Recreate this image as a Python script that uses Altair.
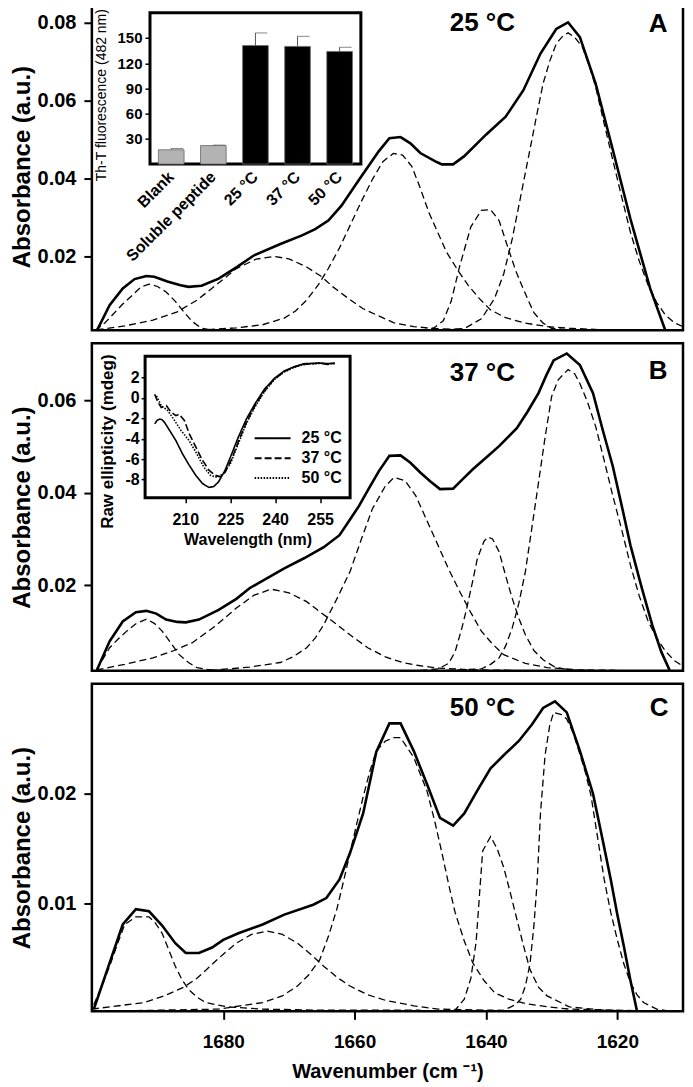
import altair as alt
import pandas as pd

FONT = "Liberation Sans"

# ---------------- shared axis data ----------------
WN_DOMAIN = [1610, 1700]
WN_TICKS = [1620, 1640, 1660, 1680]

A_Y_DOMAIN = [0.00107, 0.085]
A_Y_TICKS = [0.02, 0.04, 0.06, 0.08]
B_Y_DOMAIN = [0.0014, 0.0724]
B_Y_TICKS = [0.02, 0.04, 0.06]
C_Y_DOMAIN = [0.0002, 0.030]
C_Y_TICKS = [0.01, 0.02]

PANEL_TEMPS = ["25 °C", "37 °C", "50 °C"]
PANEL_LETTERS = ["A", "B", "C"]

# ---------------- panel A (25 °C) ----------------
A_TOTAL_WN = [1699.2, 1697.3, 1695.3, 1693.5, 1691.7, 1690.5, 1688.5, 1686.5, 1685.3, 1683.3, 1680.7, 1678, 1675.3,
              1671.3, 1668, 1666, 1664, 1662, 1659.3, 1656.3, 1654.7, 1653, 1651.5, 1650, 1647.5, 1646.7, 1645,
              1643.3, 1640, 1637, 1634.3, 1631.7, 1629.3, 1627.5, 1625.7, 1623.3, 1620.7, 1618, 1615, 1612.7]
A_TOTAL_ABS = [0.0011, 0.0075, 0.0118, 0.0142, 0.015, 0.0148, 0.0136, 0.0126, 0.0122, 0.0125, 0.0143, 0.0172, 0.0203,
               0.0232, 0.0254, 0.027, 0.0292, 0.033, 0.0397, 0.047, 0.0503, 0.0506, 0.049, 0.0465, 0.0442, 0.0436, 0.0436,
               0.0457, 0.0512, 0.0558, 0.0626, 0.072, 0.0783, 0.080, 0.0762, 0.0643, 0.0474, 0.0296, 0.0118, 0.0011]
A_P1_WN = [1699.5, 1698, 1696.7, 1695.3, 1694, 1692.5, 1691.3, 1690, 1688.7, 1687.3, 1686, 1684.7, 1683.3, 1681.5, 1678]
A_P1_ABS = [0.001, 0.003, 0.0053, 0.0078, 0.0098, 0.0122, 0.0129, 0.0123, 0.0109, 0.0085, 0.0058, 0.0033, 0.0016, 0.0011, 0.001]
A_P2_WN = [1699.3, 1695, 1690.7, 1687, 1684, 1681, 1678, 1675, 1672.3, 1670, 1667.3, 1665, 1663.3, 1661, 1658.7, 1656,
           1654, 1651, 1647.3, 1642, 1636]
A_P2_ABS = [0.0012, 0.0022, 0.0037, 0.0058, 0.0088, 0.0128, 0.0169, 0.0193, 0.020, 0.0194, 0.0173, 0.0148, 0.0122, 0.0093,
            0.0066, 0.0045, 0.003, 0.002, 0.0015, 0.0012, 0.0011]
A_P3_WN = [1684, 1678, 1674, 1670.7, 1669, 1667.3, 1665.5, 1664, 1662.3, 1660.7, 1659, 1657.3, 1655.7, 1654.1, 1652.7,
           1651.3, 1650, 1648.7, 1647.3, 1646, 1644.3, 1642.7, 1641, 1639.3, 1637, 1634, 1630.5, 1627.3, 1622, 1618]
A_P3_ABS = [0.0011, 0.0017, 0.0025, 0.0042, 0.006, 0.0088, 0.0128, 0.0169, 0.0222, 0.0279, 0.034, 0.0397, 0.0443, 0.0464,
            0.046, 0.0431, 0.0375, 0.0313, 0.026, 0.0211, 0.0165, 0.0126, 0.0092, 0.0063, 0.0043, 0.0029, 0.002, 0.0016,
            0.0012, 0.0011]
A_P4_WN = [1650, 1648, 1646.5, 1645.3, 1644, 1642.3, 1640.7, 1639.3, 1638, 1636.7, 1635.5, 1634.7, 1633.5, 1632.7, 1631.3,
           1630, 1627]
A_P4_ABS = [0.0011, 0.0016, 0.0035, 0.0085, 0.0175, 0.0276, 0.0318, 0.032, 0.0292, 0.0225, 0.0165, 0.0132, 0.0085, 0.0056,
            0.0029, 0.0016, 0.0011]
A_P5_WN = [1648, 1643.3, 1640.7, 1638.7, 1637.3, 1636, 1634.7, 1633.3, 1632.3, 1631.3, 1630.3, 1629.3, 1628.3, 1627.5, 1626.5,
           1625.3, 1624.3, 1623.3, 1622, 1620.7, 1619.3, 1618, 1616.7, 1615.3, 1614, 1612.7, 1611.3, 1610]
A_P5_ABS = [0.0011, 0.0015, 0.004, 0.0092, 0.0155, 0.0245, 0.0355, 0.0474, 0.056, 0.0643, 0.070, 0.0745, 0.0765, 0.0773,
            0.0762, 0.0736, 0.069, 0.0635, 0.054, 0.0448, 0.035, 0.0262, 0.019, 0.0126, 0.0082, 0.005, 0.003, 0.002]

# ---------------- panel B (37 °C) ----------------
B_TOTAL_WN = [1699.2, 1697.3, 1695.3, 1693.3, 1691.7, 1690.2, 1688.7, 1687, 1685.7, 1683.7, 1680.7, 1678, 1676, 1673.3,
              1670.7, 1667.7, 1664.7, 1662.3, 1660.8, 1659.3, 1657.8, 1656.3, 1654.7, 1653, 1651.5, 1650, 1648.5, 1647,
              1645, 1643.5, 1642, 1640, 1638, 1635.3, 1633.7, 1632, 1630.8, 1629.7, 1627.7, 1625.7, 1623.7, 1622.2,
              1620.7, 1619.3, 1618, 1616.3, 1614.7, 1613.3, 1612]
B_TOTAL_ABS = [0.0017, 0.0078, 0.0121, 0.0141, 0.0144, 0.0138, 0.0125, 0.012, 0.0119, 0.0125, 0.0146, 0.017, 0.0193, 0.0215,
               0.0236, 0.0258, 0.0282, 0.0308, 0.034, 0.0372, 0.041, 0.0447, 0.048, 0.0481, 0.0465, 0.0444, 0.0425, 0.0408,
               0.0409, 0.043, 0.0451, 0.0476, 0.0501, 0.054, 0.0575, 0.0616, 0.0655, 0.0687, 0.0702, 0.0677, 0.0616, 0.0535,
               0.0458, 0.037, 0.0286, 0.0195, 0.0114, 0.0055, 0.0014]
B_P1_WN = [1699.3, 1698.3, 1697.3, 1696, 1694.7, 1693.3, 1691.7, 1690.5, 1689.3, 1688, 1686.7, 1685.3, 1684, 1682, 1678]
B_P1_ABS = [0.0016, 0.004, 0.0064, 0.0083, 0.010, 0.0116, 0.0126, 0.0117, 0.010, 0.0075, 0.0049, 0.0032, 0.0021, 0.0016, 0.0015]
B_P2_WN = [1699.3, 1695, 1690.7, 1687.5, 1684.7, 1681.3, 1678, 1675.3, 1672.7, 1670, 1667.3, 1665.3, 1663.3, 1660.7, 1658,
           1655.3, 1652.7, 1650, 1647.3, 1642, 1636]
B_P2_ABS = [0.0016, 0.0028, 0.0042, 0.0058, 0.0075, 0.011, 0.015, 0.0178, 0.0191, 0.0183, 0.0164, 0.0142, 0.0121, 0.0092,
            0.0064, 0.0044, 0.0032, 0.0025, 0.002, 0.0016, 0.0015]
B_P3_WN = [1682, 1676, 1671.3, 1669.3, 1667.3, 1666, 1664.7, 1662.7, 1660.7, 1659, 1657.3, 1655.3, 1654, 1652.3, 1650.7,
           1649, 1647.3, 1645.7, 1644, 1642.3, 1640.7, 1639, 1637.3, 1634, 1630.7, 1626, 1620]
B_P3_ABS = [0.0015, 0.0022, 0.0032, 0.0045, 0.0064, 0.0085, 0.0114, 0.017, 0.0229, 0.0298, 0.0365, 0.0415, 0.0433, 0.0426,
            0.0394, 0.034, 0.0286, 0.0235, 0.0186, 0.014, 0.010, 0.0072, 0.0049, 0.003, 0.0021, 0.0016, 0.0015]
B_P4_WN = [1650, 1647.3, 1645.7, 1644.7, 1643.7, 1643, 1642, 1641.3, 1640.3, 1639.7, 1639, 1638, 1637, 1636, 1635, 1634,
           1632.7, 1631.3, 1629.5, 1627.3, 1624]
B_P4_ABS = [0.0015, 0.0018, 0.003, 0.0055, 0.0105, 0.0145, 0.021, 0.0258, 0.0295, 0.0304, 0.030, 0.0272, 0.022, 0.0171,
            0.0128, 0.0092, 0.0058, 0.0038, 0.0022, 0.0016, 0.0015]
B_P5_WN = [1646, 1640.7, 1639.3, 1638, 1637, 1636, 1635, 1634, 1633, 1632, 1631, 1630, 1629, 1627.5, 1626.5, 1625.7, 1624.5,
           1623.3, 1622, 1620.7, 1619.3, 1618, 1616.7, 1615.3, 1614, 1612.7, 1611.3, 1610]
B_P5_ABS = [0.0015, 0.0018, 0.0028, 0.0042, 0.0068, 0.0107, 0.016, 0.0229, 0.0325, 0.0422, 0.052, 0.0609, 0.0645, 0.0667,
            0.0658, 0.0637, 0.0595, 0.0544, 0.047, 0.0394, 0.0318, 0.0243, 0.0178, 0.0121, 0.0085, 0.0057, 0.0036, 0.0024]

# ---------------- panel C (50 °C) ----------------
C_TOTAL_WN = [1699.7, 1697.3, 1695.3, 1693.3, 1691.3, 1689.3, 1687.3, 1685.7, 1683.7, 1681.7, 1680, 1677.7, 1674, 1670.7,
              1666.3, 1664.3, 1662.3, 1660.7, 1658.7, 1656.7, 1654.7, 1653, 1651, 1649, 1647, 1645, 1643.3, 1641.3,
              1639.3, 1637.3, 1635, 1633, 1631.3, 1629.5, 1627.7, 1625.7, 1623.7, 1622.3, 1621, 1620, 1619, 1618, 1617]
C_TOTAL_ABS = [0.0004, 0.0046, 0.0081, 0.0095, 0.0093, 0.008, 0.0064, 0.0055, 0.0055, 0.006, 0.0067, 0.0073, 0.0081, 0.009,
               0.0099, 0.0105, 0.0122, 0.0146, 0.0182, 0.0238, 0.0264, 0.0264, 0.0239, 0.0209, 0.0178, 0.0171, 0.0182,
               0.0203, 0.0223, 0.0235, 0.0248, 0.0263, 0.0278, 0.0284, 0.0274, 0.0239, 0.020, 0.016, 0.0122, 0.009,
               0.0061, 0.003, 0.0002]
C_P1_WN = [1699.7, 1698.5, 1697.3, 1696, 1695, 1693.3, 1691.3, 1690.3, 1689.3, 1688.3, 1687.3, 1686.3, 1685.3, 1684,
           1682.7, 1679.3, 1674, 1665, 1650]
C_P1_ABS = [0.0008, 0.0025, 0.0043, 0.0065, 0.0081, 0.0088, 0.0088, 0.0082, 0.0073, 0.0058, 0.0043, 0.0031, 0.0022, 0.0015,
            0.001, 0.0006, 0.0004, 0.0003, 0.0003]
C_P2_WN = [1700, 1692, 1689, 1686, 1684, 1682, 1680, 1678, 1675.7, 1673.3, 1671, 1668.7, 1666.7, 1664.7, 1662.7, 1660.7,
           1658, 1655.3, 1651, 1647.3, 1640, 1630]
C_P2_ABS = [0.0004, 0.001, 0.0016, 0.0024, 0.0032, 0.0043, 0.0054, 0.0064, 0.0072, 0.0075, 0.0072, 0.0064, 0.0054, 0.0043,
            0.0033, 0.0025, 0.0017, 0.0012, 0.0007, 0.0004, 0.0003, 0.0002]
C_P3_WN = [1700, 1690, 1680.7, 1674, 1671, 1668.7, 1667, 1665.3, 1664, 1662.7, 1661.7, 1660.7, 1659.7, 1658.7, 1657.7,
           1656.7, 1655.3, 1654, 1653, 1651, 1649, 1647.8, 1646.7, 1645.7, 1644.7, 1643.3, 1642, 1640.3, 1638.7, 1636.5,
           1634, 1630.5, 1627.3, 1620, 1612]
C_P3_ABS = [0.0002, 0.0003, 0.0004, 0.001, 0.0016, 0.0025, 0.0035, 0.0049, 0.007, 0.0095, 0.012, 0.0146, 0.0172, 0.0197,
            0.022, 0.0239, 0.0248, 0.0251, 0.0251, 0.0233, 0.0203, 0.0175, 0.0146, 0.0118, 0.0092, 0.0066, 0.0046, 0.003,
            0.0019, 0.0013, 0.0009, 0.0006, 0.0004, 0.0003, 0.0002]
C_P4_WN = [1655, 1646, 1644.7, 1643.3, 1642.3, 1641.5, 1640.9, 1640.5, 1639.3, 1638.3, 1637.3, 1636.3, 1635.3, 1634.3,
           1633.3, 1632, 1630.7, 1627.3, 1622, 1615]
C_P4_ABS = [0.0002, 0.0002, 0.0003, 0.0013, 0.0032, 0.0065, 0.0115, 0.0148, 0.0161, 0.015, 0.0133, 0.011, 0.0086, 0.0062,
            0.004, 0.0024, 0.0016, 0.0006, 0.0003, 0.0002]
C_P5_WN = [1645, 1637.3, 1635.5, 1634.7, 1634, 1633.3, 1632.7, 1632.2, 1631.7, 1631, 1630.3, 1629.7, 1628.5, 1627.7, 1626.7,
           1625.7, 1624.8, 1624, 1623, 1622, 1621, 1620, 1619, 1618, 1617, 1616, 1614, 1612, 1610]
C_P5_ABS = [0.0002, 0.0003, 0.0008, 0.0013, 0.0025, 0.0045, 0.008, 0.012, 0.0182, 0.0235, 0.0262, 0.0274, 0.0272, 0.0268,
            0.0255, 0.0236, 0.0218, 0.0198, 0.016, 0.0122, 0.0092, 0.0067, 0.0045, 0.0028, 0.0017, 0.001, 0.0004, 0.0002,
            0.0002]

# ---------------- inset A: Th-T fluorescence ----------------
BAR_LABELS = ["Blank", "Soluble peptide", "25 °C", "37 °C", "50 °C"]
BAR_VALUES = [17, 22, 141, 140, 134]
BAR_ERRORS = [1.5, 0.6, 15, 12, 5]
BAR_KIND = ["control", "control", "fibril", "fibril", "fibril"]
THT_DOMAIN = [0, 180]
THT_TICKS = [30, 60, 90, 120, 150]

# ---------------- inset B: CD spectra ----------------
CD_TEMPS = ["25 °C", "37 °C", "50 °C"]
CD_WL_DOMAIN = [196.6, 265]
CD_WL_TICKS = [210, 225, 240, 255]
CD_Y_DOMAIN = [-9.8, 4.1]
CD_Y_TICKS = [2, 0, -2, -4, -6, -8]
CD25_WL = [199.8, 200.6, 201.5, 202.3, 203.1, 204.8, 206.9, 209.1, 211.3, 213.5, 215.7, 217.9, 219.5, 221.1, 223.3, 225.5,
           227.7, 230.4, 233.2, 236.4, 239.7, 243.0, 246.3, 249.5, 252, 255, 257.5, 259.9]
CD25_MDEG = [-2.55, -2.2, -2.07, -2.15, -2.4, -3.2, -4.2, -5.5, -6.6, -7.6, -8.4, -8.8, -8.7, -8.25, -7.1, -5.5, -3.85,
             -2.07, -0.6, 0.86, 1.93, 2.65, 3.07, 3.37, 3.4, 3.43, 3.38, 3.42]
CD37_WL = [199.8, 200.9, 202.0, 203.7, 205.3, 206.9, 208.0, 209.7, 211.3, 213.5, 215.7, 217.9, 220.0, 221.7, 223.3, 225.5,
           227.7, 230.4, 233.2, 236.4, 239.7, 243.0, 246.3, 249.5, 252, 255, 257.5, 259.9]
CD37_MDEG = [0.37, -0.44, -0.93, -0.76, -1.4, -1.74, -1.6, -2.2, -3.5, -4.8, -6.1, -7.1, -7.6, -7.75, -7.3, -6.0, -4.3,
             -2.4, -0.8, 0.7, 1.85, 2.6, 3.05, 3.3, 3.35, 3.45, 3.3, 3.4]
CD50_WL = [200.4, 202.0, 204.2, 206.4, 208.6, 211.3, 213.5, 216.2, 218.4, 220.6, 222.8, 225.0, 227.7, 230.4, 233.2, 236.4,
           239.7, 243.0, 246.3, 249.5, 252, 255, 257.5, 259.9]
CD50_MDEG = [0.2, -0.76, -1.25, -2.2, -3.2, -4.2, -5.3, -6.8, -7.6, -7.8, -7.4, -6.5, -4.5, -2.5, -0.9, 0.6, 1.8, 2.55,
             3.0, 3.3, 3.35, 3.4, 3.35, 3.4]

# ---------------- layout (pixels) ----------------
W, H, GAP = 592, 328, 9
INSET_A = dict(x0=58.2, x1=269.4, y0=10, y1=161.5)
INSET_B = dict(x0=53.3, x1=258.6, y0=13, y1=154.6)
# legend line symbol: 12 px symbol cell, drawn three times as wide
LEGEND_LINE_PATH = "M-3,0H3"


def long_df(series):
    rows = []
    for name, xs, ys in series:
        for x, y in zip(xs, ys):
            rows.append({"series": name, "wn": x, "absb": y})
    return pd.DataFrame(rows)


def main_spectrum(total_wn, total_abs, peaks, ydom, yticks, show_x):
    xaxis = None
    if show_x:
        xaxis = alt.Axis(values=WN_TICKS, format="d", title="Wavenumber (cm ⁻¹)", tickSize=8, tickWidth=2,
                         labelPadding=13, titlePadding=10, labelFontSize=19, titleFontSize=20)
    x = alt.X("wn:Q", scale=alt.Scale(domain=WN_DOMAIN, reverse=True, nice=False, zero=False), axis=xaxis)
    y = alt.Y("absb:Q", scale=alt.Scale(domain=ydom, nice=False, zero=False),
              axis=alt.Axis(orient="left", values=yticks, format=".2f", title="Absorbance (a.u.)", tickSize=8,
                            tickWidth=2, labelPadding=8, titlePadding=3, labelFontSize=20, titleFontSize=24))
    comp = alt.Chart(long_df(peaks)).mark_line(color="black", strokeWidth=1.3, strokeDash=[7, 4], clip=True).encode(
        x=x, y=y, detail="series:N")
    tot = alt.Chart(long_df([("total", total_wn, total_abs)])).mark_line(
        color="black", strokeWidth=2.6, clip=True).encode(x=x, y=y)
    return alt.layer(comp, tot)


def frame_box(b):
    return alt.Chart(pd.DataFrame({"k": [0]})).mark_rect(fill="white", stroke="black", strokeWidth=3).encode(
        x=alt.value(b["x0"]), x2=alt.value(b["x1"]), y=alt.value(b["y0"]), y2=alt.value(b["y1"]))


def tht_inset():
    b = INSET_A
    df = pd.DataFrame({"label": BAR_LABELS, "value": BAR_VALUES,
                       "upper": [v + e for v, e in zip(BAR_VALUES, BAR_ERRORS)], "kind": BAR_KIND})
    x = alt.X("label:N", sort=BAR_LABELS,
              scale=alt.Scale(domain=BAR_LABELS, range=[b["x0"], b["x1"]], paddingInner=0.39, paddingOuter=0.2),
              axis=alt.Axis(orient="bottom", offset=-(H - b["y1"]), title=None, labelAngle=-45, labelAlign="right",
                            labelBaseline="middle", ticks=False, labelPadding=10, labelFontSize=16,
                            labelOverlap=False, labelLimit=300, zindex=1))
    y = alt.Y("value:Q", scale=alt.Scale(domain=THT_DOMAIN, range=[b["y1"], b["y0"]], nice=False),
              axis=alt.Axis(orient="left", offset=-b["x0"], values=THT_TICKS, title="Th-T fluorescence (482 nm)",
                            titleFontWeight="normal", titleFontSize=14, titlePadding=9, titleY=92,
                            labelFontSize=15, tickSize=5, tickWidth=1.5, labelPadding=3, zindex=1))
    bars = alt.Chart(df).mark_bar(stroke="#6a6a6a", strokeWidth=0.8).encode(
        x=x, y=y, color=alt.Color("kind:N", scale=alt.Scale(domain=["control", "fibril"],
                                                            range=["#b3b3b3", "#000000"]), legend=None))
    err = alt.Chart(df).mark_rule(color="#555555", strokeWidth=1).encode(x="label:N", y="value:Q", y2="upper:Q")
    cap = alt.Chart(df).mark_tick(color="#555555", thickness=1, size=12, xOffset=6).encode(x="label:N", y="upper:Q")
    return alt.layer(frame_box(b), bars, err, cap)


def cd_inset():
    b = INSET_B
    rows = []
    for name, xs, ys in [(CD_TEMPS[0], CD25_WL, CD25_MDEG), (CD_TEMPS[1], CD37_WL, CD37_MDEG),
                         (CD_TEMPS[2], CD50_WL, CD50_MDEG)]:
        for xv, yv in zip(xs, ys):
            rows.append({"temp": name, "wl": xv, "mdeg": yv})
    df = pd.DataFrame(rows)
    x = alt.X("wl:Q", scale=alt.Scale(domain=CD_WL_DOMAIN, range=[b["x0"], b["x1"]], nice=False, zero=False),
              axis=alt.Axis(orient="bottom", offset=-(H - b["y1"]), values=CD_WL_TICKS, title="Wavelength (nm)",
                            tickSize=5, tickWidth=1.5, labelPadding=9, titlePadding=4, labelFontSize=16,
                            titleFontSize=16, zindex=1))
    y = alt.Y("mdeg:Q", scale=alt.Scale(domain=CD_Y_DOMAIN, range=[b["y1"], b["y0"]], nice=False, zero=False),
              axis=alt.Axis(orient="left", offset=-b["x0"], values=CD_Y_TICKS, labelExpr="datum.value + ''",
                            title="Raw ellipticity (mdeg)", titleFontSize=17, titlePadding=8, titleY=98,
                            labelFontSize=16, tickSize=4, tickWidth=1.5, labelPadding=2, zindex=1))
    lines = alt.Chart(df).mark_line(color="black", strokeWidth=1.6).encode(
        x=x, y=y,
        strokeDash=alt.StrokeDash("temp:N", sort=CD_TEMPS,
                                  scale=alt.Scale(domain=CD_TEMPS, range=[[1, 0], [7, 3], [1.5, 1.5]]),
                                  legend=alt.Legend(orient="none", legendX=173, legendY=87, title=None,
                                                    symbolType=LEGEND_LINE_PATH, symbolSize=144,
                                                    symbolStrokeWidth=2, symbolStrokeColor="black",
                                                    symbolFillColor="transparent",
                                                    labelFont=FONT, labelFontSize=16, labelFontWeight="bold",
                                                    labelColor="black", labelOffset=21, rowPadding=4, padding=0)))
    return alt.layer(frame_box(b), lines)


def labels(temp, letter, tpos, lpos):
    t = alt.Chart(pd.DataFrame({"t": [temp]})).mark_text(
        font=FONT, fontSize=26, fontWeight="bold", color="black", align="center", baseline="middle").encode(
        text="t:N", x=alt.value(tpos[0]), y=alt.value(tpos[1]))
    l = alt.Chart(pd.DataFrame({"t": [letter]})).mark_text(
        font=FONT, fontSize=26, fontWeight="bold", color="black", align="center", baseline="middle").encode(
        text="t:N", x=alt.value(lpos[0]), y=alt.value(lpos[1]))
    return alt.layer(t, l)


def panel(main, inset, lab):
    layers = [main] + ([inset] if inset is not None else []) + [lab]
    return alt.layer(*layers).resolve_scale(x="independent", y="independent").properties(width=W, height=H)


pA = panel(main_spectrum(A_TOTAL_WN, A_TOTAL_ABS,
                         [("p1", A_P1_WN, A_P1_ABS), ("p2", A_P2_WN, A_P2_ABS), ("p3", A_P3_WN, A_P3_ABS),
                          ("p4", A_P4_WN, A_P4_ABS), ("p5", A_P5_WN, A_P5_ABS)], A_Y_DOMAIN, A_Y_TICKS, False),
           tht_inset(), labels(PANEL_TEMPS[0], PANEL_LETTERS[0], (391, 20), (567, 21)))
pB = panel(main_spectrum(B_TOTAL_WN, B_TOTAL_ABS,
                         [("p1", B_P1_WN, B_P1_ABS), ("p2", B_P2_WN, B_P2_ABS), ("p3", B_P3_WN, B_P3_ABS),
                          ("p4", B_P4_WN, B_P4_ABS), ("p5", B_P5_WN, B_P5_ABS)], B_Y_DOMAIN, B_Y_TICKS, False),
           cd_inset(), labels(PANEL_TEMPS[1], PANEL_LETTERS[1], (391, 30), (567, 28)))
pC = panel(main_spectrum(C_TOTAL_WN, C_TOTAL_ABS,
                         [("p1", C_P1_WN, C_P1_ABS), ("p2", C_P2_WN, C_P2_ABS), ("p3", C_P3_WN, C_P3_ABS),
                          ("p4", C_P4_WN, C_P4_ABS), ("p5", C_P5_WN, C_P5_ABS)], C_Y_DOMAIN, C_Y_TICKS, True),
           None, labels(PANEL_TEMPS[2], PANEL_LETTERS[2], (391, 24), (568, 24)))

chart = alt.vconcat(pA, pB, pC, spacing=GAP).resolve_scale(
    strokeDash="independent", color="independent"
).resolve_legend(
    strokeDash="independent", color="independent"
).configure(
    padding={"left": 0, "top": -8, "right": 0, "bottom": 0}, background="white"
).configure_view(
    stroke="black", strokeWidth=2.5
).configure_axis(
    labelFont=FONT, titleFont=FONT, labelColor="black", titleColor="black", tickColor="black",
    labelFontWeight="bold", titleFontWeight="bold", grid=False, domain=False
)

chart.save("out.html", embed_options={"renderer": "svg", "actions": False})
